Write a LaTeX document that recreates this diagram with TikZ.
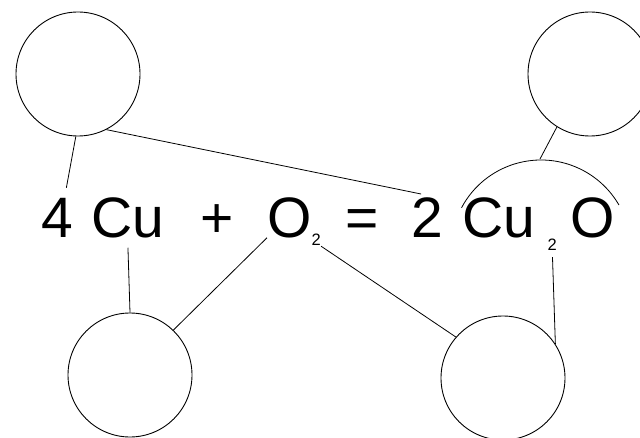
\documentclass[tikz,border=0pt]{standalone}
\usepackage{fontspec}
\setmainfont{Liberation Sans}
\usepackage{tikz}
\usetikzlibrary{calc}

\begin{document}
\begin{tikzpicture}[x=1pt,y=1pt,
    atom/.style={draw, circle, line width=0.9pt, minimum size=124pt, inner sep=0pt},
    formula/.style={anchor=base west, inner sep=0pt, font=\fontsize{57}{60}\selectfont},
    idx/.style={anchor=base west, inner sep=0pt, font=\fontsize{16.5}{18}\selectfont},
    bond/.style={line width=0.8pt}]
  \useasboundingbox (0,0) rectangle (640,437);
  \clip (0,0) rectangle (640,437);
  % the equation
  \node[formula] (four) at (41.5,200) {4};
  \node[formula] (cuL)  at (91,200)   {Cu};
  \node[formula] (plus) at (200,200)  {+};
  \node[formula] (oxy)  at (267,200)  {O};
  \node[idx]     (oxysub) at (311.5,191) {2};
  \node[formula] (eq)   at (345,200)  {=};
  \node[formula] (two)  at (411,200)  {2};
  \node[formula] (cuR)  at (462,200)  {Cu};
  \node[idx]     (cusub) at (547.5,186) {2};
  \node[formula] (oR)   at (570,200)  {O};
  % the empty circles
  \node[atom] (atomTL) at (78,363)  {};
  \node[atom] (atomTR) at (590,363) {};
  \node[atom] (atomBL) at (130,62)  {};
  \node[atom] (atomBR) at (503,59)  {};
  % arc over Cu2O
  \draw[bond] (541,187) ++(152:90) arc (152:30:90);
  \coordinate (arcTop) at (540,278);
  % connectors
  \draw[bond, shorten >=10pt] (atomTL.268) -- ([xshift=7pt]four.north);
  \draw[bond] (atomTL.297) -- ([xshift=-6pt,yshift=3pt]two.north);
  \draw[bond] (atomTR.238) -- (arcTop);
  \draw[bond, shorten <=10pt] (cuL.south) -- (atomBL.north);
  \draw[bond] (oxy.south west) -- (atomBL.46);
  \draw[bond] (oxysub.south east) -- (atomBR.139);
  \draw[bond, shorten <=6pt] (cusub.south) -- (atomBR.33);
\end{tikzpicture}
\end{document}
